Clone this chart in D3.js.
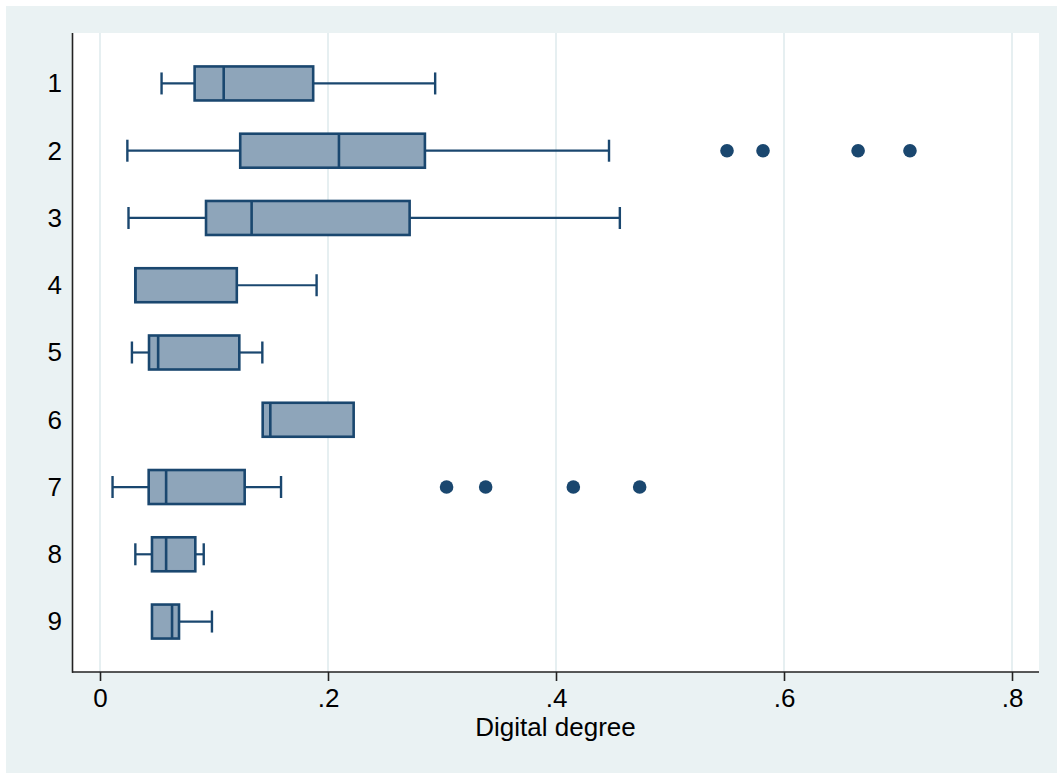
<!DOCTYPE html>
<html>
<head>
<meta charset="utf-8">
<script src="https://cdn.jsdelivr.net/npm/d3@7"></script>
<style>
  html, body { margin: 0; padding: 0; background: #ffffff; }
  svg { display: block; }
  text { font-family: "Liberation Sans", Arial, sans-serif; fill: #000; }
</style>
</head>
<body>
<svg id="chart" width="1057" height="773"></svg>
<script>
// Box-plot summaries of digital degree by group
const groups      = ["1", "2", "3", "4", "5", "6", "7", "8", "9"];
const lowWhisker  = [0.054, 0.024, 0.025, 0.031, 0.028, 0.1427, 0.011, 0.031, 0.0456];
const q1          = [0.083, 0.123, 0.093, 0.031, 0.043, 0.1427, 0.0427, 0.0456, 0.0456];
const medians     = [0.1085, 0.2096, 0.133, 0.031, 0.051, 0.1494, 0.058, 0.058, 0.0632];
const q3          = [0.187, 0.285, 0.2716, 0.120, 0.1222, 0.2225, 0.1269, 0.0836, 0.0693];
const highWhisker = [0.294, 0.4465, 0.456, 0.190, 0.1424, 0.2225, 0.1588, 0.091, 0.0982];
// Outside values (group, value)
const outlierGroups = ["2", "2", "2", "2", "7", "7", "7", "7"];
const outlierValues = [0.550, 0.5816, 0.665, 0.7105, 0.304, 0.3383, 0.4152, 0.4734];
const xTicks = [0, 0.2, 0.4, 0.6, 0.8];
const xTickLabels = ["0", ".2", ".4", ".6", ".8"];
const xTitle = "Digital degree";

const svg = d3.select("#chart");
const W = 1057, H = 773;
const plot = { left: 72, right: 1039, top: 33, bottom: 672 };
const fontSize = 26;

const navy = "#1a476f";
const boxFill = "#8ea5ba";
const gridColor = "#e6eff1";

// Outer graph region
svg.append("rect").attr("x", 6).attr("y", 6).attr("width", W - 6).attr("height", H - 6)
  .attr("fill", "#eaf2f3");
// Plot region
svg.append("rect").attr("x", plot.left).attr("y", plot.top)
  .attr("width", plot.right - plot.left).attr("height", plot.bottom - plot.top)
  .attr("fill", "#ffffff");

const x = d3.scaleLinear().domain([0, 0.8]).range([100, 1012]);
const y = d3.scalePoint().domain(groups).range([plot.top, plot.bottom]).padding(0.75);

// Vertical grid lines
svg.append("g").selectAll("line").data(xTicks).join("line")
  .attr("x1", d => x(d)).attr("x2", d => x(d))
  .attr("y1", plot.top).attr("y2", plot.bottom)
  .attr("stroke", gridColor).attr("stroke-width", 2);

// X axis
const xAxis = d3.axisBottom(x).tickValues(xTicks)
  .tickFormat((d, i) => xTickLabels[i]).tickSize(9).tickPadding(7.5).tickSizeOuter(0);
const gx = svg.append("g").attr("transform", `translate(0,${plot.bottom})`).call(xAxis);
gx.select(".domain").remove();
gx.selectAll(".tick line").attr("stroke", "#222").attr("stroke-width", 1.6);
gx.selectAll(".tick text").attr("font-size", fontSize).attr("fill", "#000")
  .attr("font-family", '"Liberation Sans", Arial, sans-serif');
svg.append("line").attr("x1", plot.left).attr("x2", plot.right)
  .attr("y1", plot.bottom).attr("y2", plot.bottom)
  .attr("stroke", "#222").attr("stroke-width", 1.6);

// Y axis (labels only, no tick marks)
const yAxis = d3.axisLeft(y).tickSize(0).tickPadding(10);
const gy = svg.append("g").attr("transform", `translate(${plot.left},0)`).call(yAxis);
gy.select(".domain").remove();
gy.selectAll(".tick text").attr("font-size", fontSize).attr("fill", "#000")
  .attr("font-family", '"Liberation Sans", Arial, sans-serif');
svg.append("line").attr("x1", plot.left + 0.5).attr("x2", plot.left + 0.5)
  .attr("y1", plot.top).attr("y2", plot.bottom + 0.8)
  .attr("stroke", "#222").attr("stroke-width", 1.6);

// Axis title
svg.append("text").attr("x", (plot.left + plot.right) / 2).attr("y", 736)
  .attr("text-anchor", "middle").attr("font-size", fontSize).text(xTitle);

// Boxes
const boxes = groups.map((g, i) => ({
  g, lo: lowWhisker[i], q1: q1[i], med: medians[i], q3: q3[i], hi: highWhisker[i]
}));
const boxH = 34, capH = 22;
const gb = svg.append("g");
const b = gb.selectAll("g").data(boxes).join("g");

// Whiskers
b.append("line").attr("x1", d => x(d.lo)).attr("x2", d => x(d.q1))
  .attr("y1", d => y(d.g)).attr("y2", d => y(d.g))
  .attr("stroke", navy).attr("stroke-width", 2.2);
b.append("line").attr("x1", d => x(d.q3)).attr("x2", d => x(d.hi))
  .attr("y1", d => y(d.g)).attr("y2", d => y(d.g))
  .attr("stroke", navy).attr("stroke-width", 2.2);
// Whisker caps
b.filter(d => d.lo < d.q1).append("line")
  .attr("x1", d => x(d.lo)).attr("x2", d => x(d.lo))
  .attr("y1", d => y(d.g) - capH / 2).attr("y2", d => y(d.g) + capH / 2)
  .attr("stroke", navy).attr("stroke-width", 2.4);
b.filter(d => d.hi > d.q3).append("line")
  .attr("x1", d => x(d.hi)).attr("x2", d => x(d.hi))
  .attr("y1", d => y(d.g) - capH / 2).attr("y2", d => y(d.g) + capH / 2)
  .attr("stroke", navy).attr("stroke-width", 2.4);
// Interquartile box
b.append("rect")
  .attr("x", d => x(d.q1)).attr("width", d => x(d.q3) - x(d.q1))
  .attr("y", d => y(d.g) - boxH / 2).attr("height", boxH)
  .attr("fill", boxFill).attr("stroke", navy).attr("stroke-width", 2.6);
// Median
b.append("line").attr("x1", d => x(d.med)).attr("x2", d => x(d.med))
  .attr("y1", d => y(d.g) - boxH / 2).attr("y2", d => y(d.g) + boxH / 2)
  .attr("stroke", navy).attr("stroke-width", 2.6);

// Outside values
svg.append("g").selectAll("circle").data(outlierValues).join("circle")
  .attr("cx", d => x(d)).attr("cy", (d, i) => y(outlierGroups[i]))
  .attr("r", 6.8).attr("fill", navy);
</script>
</body>
</html>
